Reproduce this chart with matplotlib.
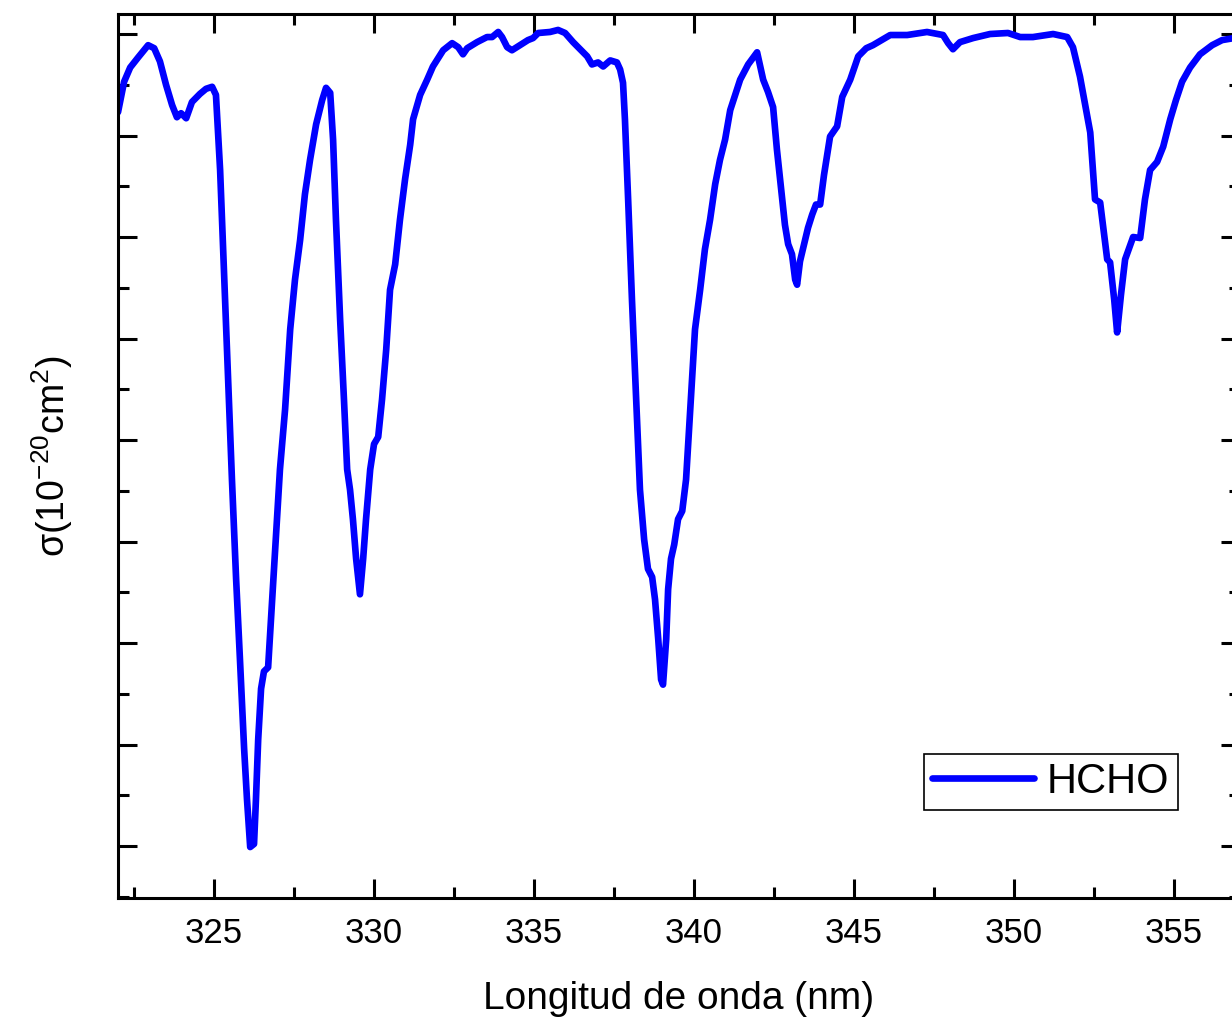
import matplotlib.pyplot as plt
from matplotlib.ticker import MultipleLocator, NullFormatter

# HCHO absorption cross-section (arbitrary units)
wavelength = [
    322.00, 322.19, 322.38, 322.63, 322.94, 323.13, 323.31, 323.50, 323.69, 323.84,
    323.97, 324.13, 324.31, 324.56, 324.75, 324.94, 325.06, 325.19, 325.31, 325.44,
    325.56, 325.69, 325.81, 325.94, 326.03, 326.13, 326.25, 326.31, 326.38, 326.47,
    326.56, 326.69, 326.78, 326.91, 327.06, 327.22, 327.38, 327.53, 327.69, 327.84,
    328.00, 328.19, 328.38, 328.50, 328.63, 328.72, 328.81, 328.94, 329.06, 329.16,
    329.25, 329.34, 329.44, 329.56, 329.66, 329.75, 329.88, 330.00, 330.13, 330.25,
    330.38, 330.50, 330.66, 330.81, 330.97, 331.13, 331.22, 331.44, 331.66, 331.84,
    332.16, 332.44, 332.63, 332.78, 332.91, 333.22, 333.53, 333.69, 333.88, 334.00,
    334.16, 334.31, 334.56, 334.81, 334.97, 335.13, 335.50, 335.75, 335.97, 336.22,
    336.50, 336.66, 336.81, 337.00, 337.16, 337.38, 337.59, 337.69, 337.78, 337.84,
    337.94, 338.06, 338.19, 338.31, 338.44, 338.56, 338.69, 338.78, 338.88, 338.97,
    339.03, 339.13, 339.19, 339.28, 339.38, 339.50, 339.63, 339.75, 339.88, 340.03,
    340.19, 340.34, 340.50, 340.66, 340.81, 340.97, 341.13, 341.44, 341.69, 341.97,
    342.16, 342.31, 342.47, 342.59, 342.72, 342.84, 342.94, 343.06, 343.16, 343.22,
    343.31, 343.44, 343.56, 343.69, 343.81, 343.94, 344.06, 344.25, 344.47, 344.63,
    344.88, 345.13, 345.38, 345.59, 346.13, 346.66, 347.28, 347.78, 347.94, 348.09,
    348.31, 348.72, 349.25, 349.81, 350.19, 350.59, 351.22, 351.66, 351.84, 352.06,
    352.25, 352.38, 352.53, 352.69, 352.91, 353.00, 353.13, 353.22, 353.34, 353.47,
    353.72, 353.94, 354.09, 354.25, 354.47, 354.66, 354.88, 355.06, 355.25, 355.50,
    355.81, 356.19, 356.50, 357.06,
]
sigma = [
    7.23, 7.53, 7.67, 7.77, 7.89, 7.86, 7.73, 7.50, 7.30, 7.18,
    7.22, 7.17, 7.33, 7.41, 7.46, 7.48, 7.40, 6.66, 5.68, 4.60,
    3.61, 2.63, 1.84, 0.96, 0.46, -0.01, 0.02, 0.46, 1.05, 1.55,
    1.72, 1.76, 2.23, 2.92, 3.71, 4.30, 5.09, 5.58, 5.97, 6.42,
    6.76, 7.11, 7.35, 7.47, 7.42, 6.96, 6.17, 5.19, 4.40, 3.71,
    3.51, 3.22, 2.83, 2.48, 2.83, 3.22, 3.71, 3.96, 4.03, 4.40,
    4.89, 5.48, 5.73, 6.17, 6.57, 6.91, 7.16, 7.40, 7.55, 7.68,
    7.84, 7.91, 7.87, 7.80, 7.86, 7.92, 7.97, 7.97, 8.02, 7.97,
    7.87, 7.84, 7.89, 7.94, 7.96, 8.01, 8.02, 8.04, 8.01, 7.92,
    7.83, 7.78, 7.70, 7.72, 7.68, 7.74, 7.72, 7.65, 7.52, 7.16,
    6.37, 5.38, 4.40, 3.51, 3.02, 2.73, 2.65, 2.43, 2.04, 1.64,
    1.59, 2.04, 2.53, 2.83, 2.97, 3.22, 3.30, 3.61, 4.30, 5.09,
    5.48, 5.88, 6.17, 6.52, 6.76, 6.96, 7.25, 7.55, 7.70, 7.82,
    7.55, 7.43, 7.28, 6.86, 6.47, 6.12, 5.93, 5.83, 5.58, 5.53,
    5.76, 5.93, 6.09, 6.22, 6.32, 6.32, 6.61, 6.99, 7.09, 7.38,
    7.55, 7.78, 7.86, 7.89, 7.99, 7.99, 8.02, 7.99, 7.91, 7.85,
    7.92, 7.96, 8.00, 8.01, 7.97, 7.97, 8.00, 7.97, 7.87, 7.58,
    7.25, 7.03, 6.37, 6.34, 5.78, 5.75, 5.38, 5.06, 5.43, 5.78,
    6.00, 5.99, 6.37, 6.66, 6.74, 6.89, 7.16, 7.35, 7.53, 7.67,
    7.80, 7.89, 7.94, 7.97,
]

plt.rcParams["font.family"] = ["Liberation Sans", "DejaVu Sans"]
plt.rcParams["mathtext.fontset"] = "custom"
plt.rcParams["mathtext.rm"] = "Liberation Sans"
plt.rcParams["mathtext.it"] = "Liberation Sans"

fig = plt.figure(figsize=(12.32, 10.23), dpi=100)
ax = fig.add_axes([0.0958, 0.1222, 0.9107, 0.8641])

ax.plot(wavelength, sigma, color="#0000ff", linewidth=4.8, label="HCHO",
        solid_joinstyle="round", solid_capstyle="round")

ax.set_xlim(322, 357.06)
ax.set_ylim(-0.512, 8.197)

ax.xaxis.set_major_locator(MultipleLocator(5))
ax.xaxis.set_minor_locator(MultipleLocator(2.5))
ax.yaxis.set_major_locator(MultipleLocator(1))
ax.yaxis.set_minor_locator(MultipleLocator(0.5))
ax.yaxis.set_major_formatter(NullFormatter())

ax.tick_params(which="both", direction="in", top=True, right=True, width=2.2)
ax.tick_params(which="major", length=14, labelsize=25, pad=14)
ax.tick_params(which="minor", length=8)
for s in ax.spines.values():
    s.set_linewidth(2.2)

ax.set_xlabel("Longitud de onda (nm)", fontsize=28, labelpad=22)
ax.set_ylabel(r"σ(10$^{\mathregular{-20}}$cm$^{\mathregular{2}}$)", fontsize=27, labelpad=17)

leg = ax.legend(loc="lower right", bbox_to_anchor=(0.956, 0.208),
                bbox_transform=fig.transFigure, borderaxespad=0,
                fontsize=30, handlelength=2.45, handletextpad=0.3,
                borderpad=0.2, fancybox=False, framealpha=1)
leg.get_frame().set_edgecolor("black")
leg.get_frame().set_linewidth(1.2)

fig.savefig("out.png", dpi=100)
plt.close(fig)
